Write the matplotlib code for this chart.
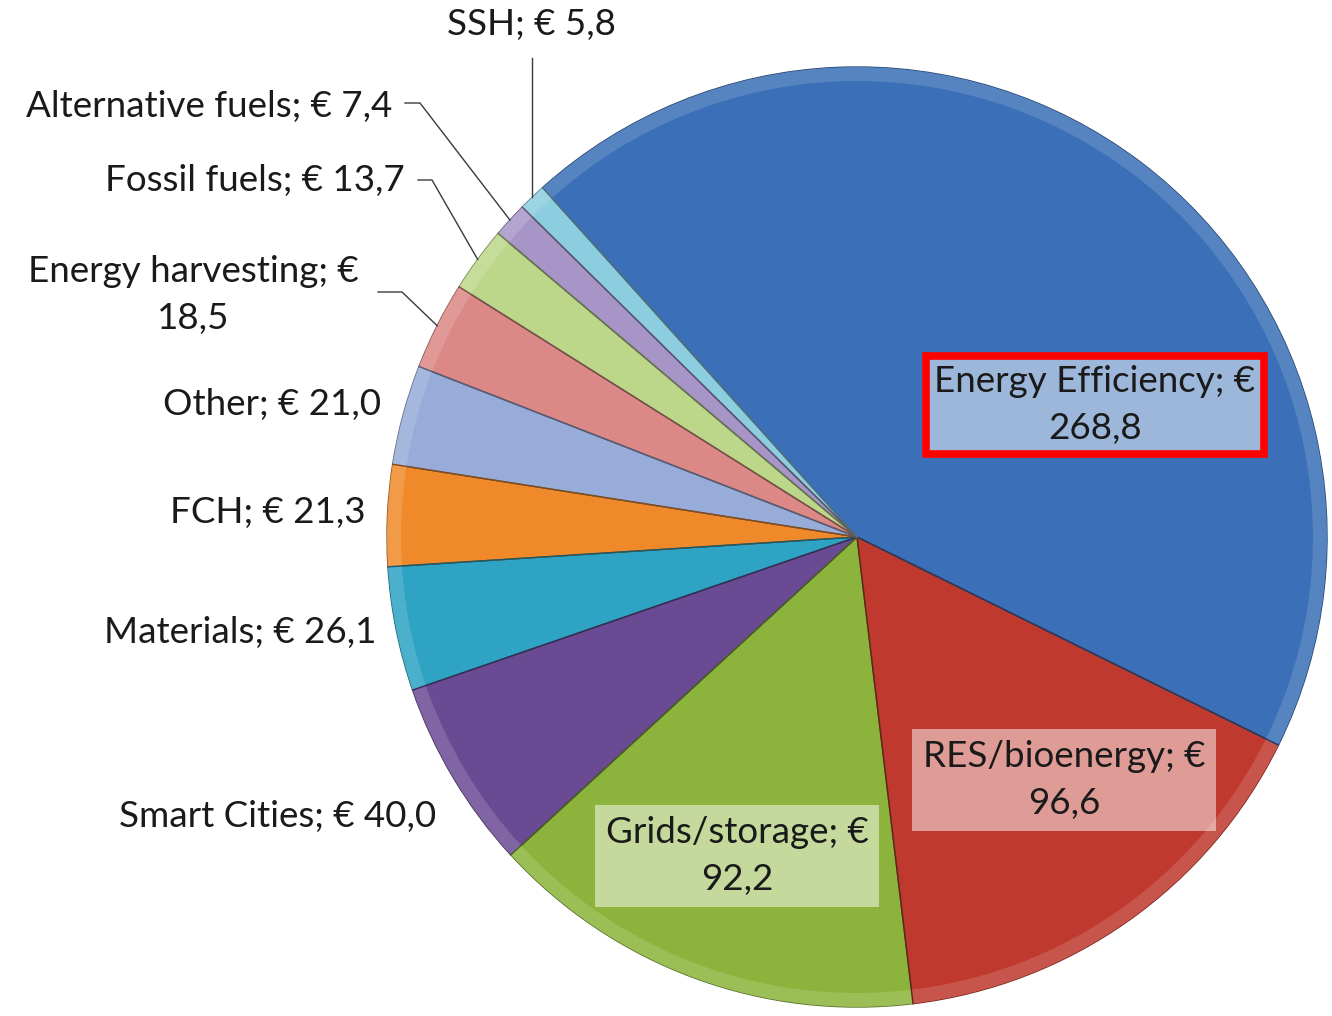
import numpy as np
import matplotlib
matplotlib.use("Agg")
import matplotlib.pyplot as plt
from matplotlib.colors import to_rgb

# ---------------- data ----------------
categories = ["Energy Efficiency", "RES/bioenergy", "Grids/storage", "Smart Cities",
              "Materials", "FCH", "Other", "Energy harvesting", "Fossil fuels",
              "Alternative fuels", "SSH"]
values = [268.8, 96.6, 92.2, 40.0, 26.1, 21.3, 21.0, 18.5, 13.7, 7.4, 5.8]
colors = ["#3b70b8", "#c0392f", "#8cb43c", "#6b4a94", "#2ea3c3", "#f0892a",
          "#97acd8", "#dc8886", "#bcd68a", "#a895c8", "#8ccde0"]

plt.rcParams['font.family'] = ['Lato', 'DejaVu Sans']

W, H = 1332, 1016
fig = plt.figure(figsize=(W / 100, H / 100), dpi=100)
ax = fig.add_axes([0, 0, 1, 1])
CX, CY, R = 857, 537, 470


def P(x, y):
    return (x, H - y)


def darker(c, f=0.75):
    r, g, b = to_rgb(c)
    return (r * f, g * f, b * f)


def lighter(c, f=0.3):
    r, g, b = to_rgb(c)
    return (r + (1 - r) * f, g + (1 - g) * f, b + (1 - b) * f)


wedges, _ = ax.pie(values, colors=colors, startangle=132, counterclock=False,
                   center=P(CX, CY), radius=R,
                   wedgeprops=dict(linewidth=1.0))
for w, c in zip(wedges, colors):
    w.set_edgecolor(darker(c, 0.6))

# bevel rim
ax.pie(values, colors=[lighter(c, 0.16) for c in colors], startangle=132,
       counterclock=False, center=P(CX, CY), radius=R,
       wedgeprops=dict(width=14, linewidth=0, alpha=0.9))
# slice borders on top of the rim
for w, c in zip(wedges, colors):
    t = np.deg2rad(w.theta1)
    ax.plot([CX, CX + R * np.cos(t)], [H - CY, H - CY + R * np.sin(t)],
            color=darker(c, 0.55), lw=1.0, zorder=3)

ax.set_xlim(0, W)
ax.set_ylim(0, H)
ax.set_aspect('equal')
ax.axis('off')


def fmt(v):
    return f"{v:.1f}".replace(".", ",")


def rim_point(i):
    w = wedges[i]
    t = np.deg2rad((w.theta1 + w.theta2) / 2)
    return CX + R * np.cos(t), H - CY + R * np.sin(t)


fs = 26.5
ls = 1.55
tc = "#1a1a1a"
lc = "#3a3a3a"

# SSH label
i = categories.index("SSH")
ax.text(*P(531, 25), f"SSH; € {fmt(values[i])}", ha='center', va='center',
        fontsize=fs, color=tc)
rx, ry = rim_point(i)
ax.plot([rx, rx], [H - 58, ry], color=lc, lw=1.0, zorder=4)

# Alternative fuels
i = categories.index("Alternative fuels")
ax.text(*P(392, 107), f"Alternative fuels; € {fmt(values[i])}", ha='right',
        va='center', fontsize=fs, color=tc)
rx, ry = rim_point(i)
ax.plot([405, 420, rx], [H - 103, H - 103, ry], color=lc, lw=1.0, zorder=4)

# Fossil fuels
i = categories.index("Fossil fuels")
ax.text(*P(405, 180), f"Fossil fuels; € {fmt(values[i])}", ha='right',
        va='center', fontsize=fs, color=tc)
rx, ry = rim_point(i)
ax.plot([418, 432, rx], [H - 180, H - 180, ry], color=lc, lw=1.0, zorder=4)

# Energy harvesting
i = categories.index("Energy harvesting")
ax.text(*P(193, 295), f"Energy harvesting; €\n{fmt(values[i])}", ha='center',
        va='center', multialignment='center', fontsize=fs, color=tc,
        linespacing=ls)
rx, ry = rim_point(i)
ax.plot([378, 402, rx], [H - 292, H - 292, ry], color=lc, lw=1.0, zorder=4)

# plain outside labels
for name, (x, y) in {"Other": (381, 404), "FCH": (366, 512),
                     "Materials": (376, 632), "Smart Cities": (436, 817)}.items():
    i = categories.index(name)
    ax.text(*P(x, y), f"{name}; € {fmt(values[i])}", ha='right', va='center',
            fontsize=fs, color=tc)

# inside boxed labels
for name, (x, y), ec, lw, pad in [("Grids/storage", (737, 856), 'none', 0, 0.3),
                                  ("RES/bioenergy", (1064, 780), 'none', 0, 0.3),
                                  ("Energy Efficiency", (1095, 405), '#ff0000', 5.5, 0.22)]:
    i = categories.index(name)
    ax.text(*P(x, y), f"{name}; €\n{fmt(values[i])}", ha='center', va='center',
            multialignment='center', fontsize=fs, color=tc, linespacing=ls,
            zorder=6,
            bbox=dict(boxstyle=f'square,pad={pad}', facecolor=(1, 1, 1, 0.5),
                      edgecolor=ec, linewidth=lw))

fig.savefig("out.png", dpi=100)
